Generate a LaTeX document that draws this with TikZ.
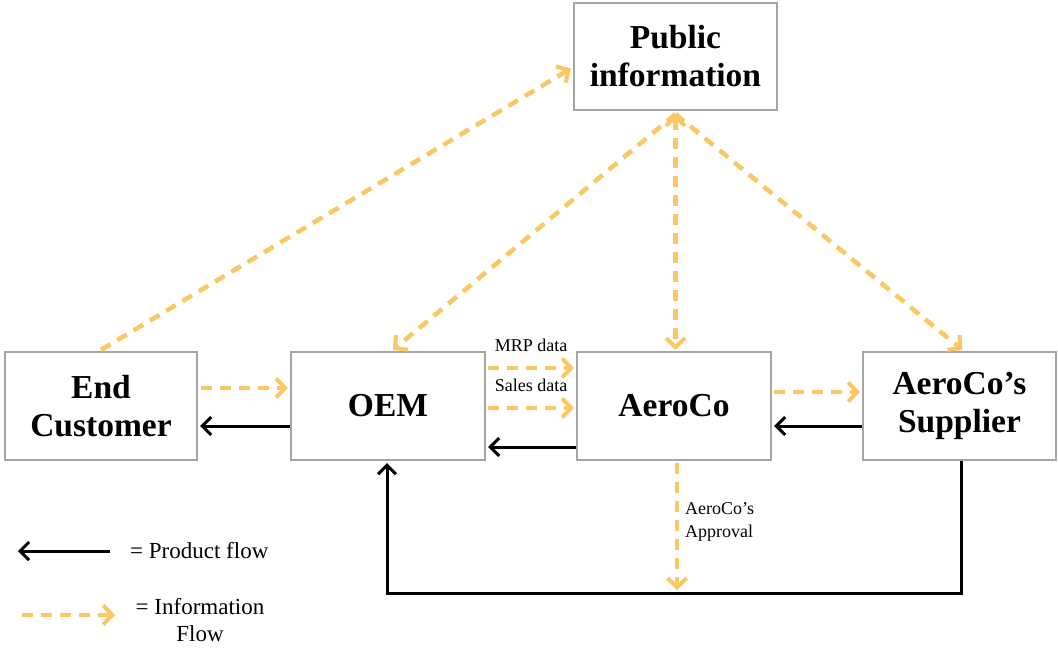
\documentclass[tikz,border=0pt]{standalone}
\usepackage{fontspec}
\setmainfont{Liberation Serif}
\usetikzlibrary{arrows.meta,calc}
\definecolor{infoorange}{RGB}{250,199,98}
\definecolor{boxgray}{RGB}{165,165,165}
\tikzset{
  party/.style={draw=boxgray, line width=2.2pt, fill=white, align=center,
    font=\bfseries\fontsize{33.5}{38}\selectfont},
  infotip/.tip={Straight Barb[length=9pt,width=19pt,line width=4pt]},
  info/.style={draw=infoorange, line width=4.5pt, dash pattern=on 11pt off 8pt, -infotip},
  infoboth/.style={info, infotip-infotip},
  product/.style={draw=black, line width=3pt,
    -{Straight Barb[length=9pt,width=18pt,line width=3pt]}},
  smalllabel/.style={font=\fontsize{18}{23}\selectfont, inner sep=0pt},
  legendlabel/.style={font=\fontsize{23}{27}\selectfont, inner sep=0pt, align=center}
}
\begin{document}
\begin{tikzpicture}[x=1pt,y=-1pt]
  \useasboundingbox (0,0) rectangle (1058,648);

  % parties
  \node[party, minimum width=192pt, minimum height=108pt] (ec)  at (101,406)   {End\\Customer};
  \node[party, minimum width=194pt, minimum height=108pt] (oem) at (388,406)   {OEM};
  \node[party, minimum width=194pt, minimum height=108pt] (aco) at (674,406)   {AeroCo};
  \node[party, minimum width=193pt, minimum height=108pt] (sup) at (959.5,406) {AeroCo’s\\Supplier};
  \node[party, minimum width=203pt, minimum height=107pt] (pub) at (675.5,56.5) {Public\\information};

  % information flows
  \draw[info] ($(ec.north)+(0,-1)$) -- ($(pub.west)+(-2,12)$);
  \draw[info] ($(pub.south)+(0,3)$) -- ($(oem.north)+(5,-1)$);
  \draw[info] ($(pub.south)+(0,3)$) -- ($(sup.north)+(3,-1)$);
  \draw[infoboth] ($(pub.south)+(0,3)$) -- ($(pub.south |- aco.north)+(0,-1)$);
  \draw[info] ($(ec.east)+(3,-18)$) -- ($(oem.west |- ec.east)+(-2,-18)$);
  \draw[info] ($(oem.east)+(2,-38)$) -- node[smalllabel, above=14pt] {MRP data} ($(aco.west |- oem.east)+(-2,-38)$);
  \draw[info] ($(oem.east)+(2,2)$) -- node[smalllabel, above=14pt] {Sales data} ($(aco.west |- oem.east)+(-2,2)$);
  \draw[info] ($(aco.east)+(2,-14)$) -- ($(sup.west |- aco.east)+(-2,-14)$);
  \coordinate (loop) at (961,593);
  \draw[info] ($(aco.south)+(3,2)$) -- ($(aco.south |- loop)+(3,-3)$);
  \node[smalllabel, anchor=west, align=left] (appr) at (685,522) {AeroCo’s\\Approval};

  % product flows
  \draw[product] ($(oem.west)+(0,20)$) -- ($(ec.east |- oem.west)+(2,20)$);
  \draw[product] ($(aco.west)+(0,41)$) -- ($(oem.east |- aco.west)+(2,41)$);
  \draw[product] ($(sup.west)+(0,20)$) -- ($(aco.east |- sup.west)+(2,20)$);
  \draw[product] (sup.south -| loop) -- (loop) -- (loop -| 387,0) -- ($(oem.south -| 387,0)+(0,2)$);

  % legend
  \coordinate (lp1) at (110,551);
  \coordinate (lp2) at (18,551);
  \draw[product] (lp1) -- (lp2);
  \node[legendlabel, anchor=west] (lpt) at (130,551) {= Product flow};
  \coordinate (li1) at (22,615);
  \coordinate (li2) at (115,615);
  \draw[info] (li1) -- (li2);
  \node[legendlabel, anchor=north] (lit) at (200,598) {= Information\\Flow};
\end{tikzpicture}
\end{document}
